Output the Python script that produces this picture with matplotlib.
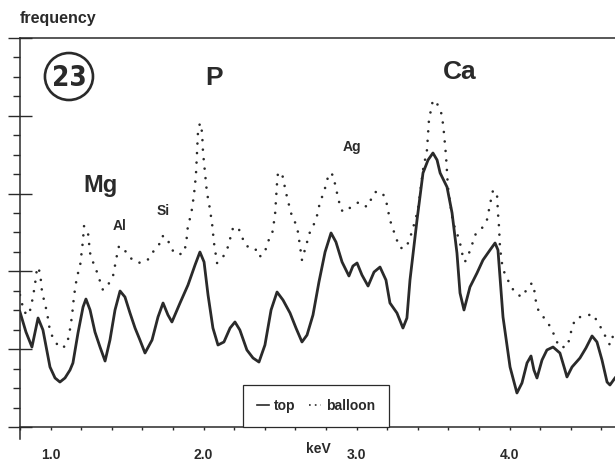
import matplotlib
matplotlib.use('Agg')
import matplotlib.pyplot as plt
from matplotlib.patches import Ellipse
from matplotlib.lines import Line2D
from matplotlib.ticker import MultipleLocator, FixedLocator

plt.rcParams['font.family'] = ['Liberation Sans', 'DejaVu Sans']
plt.rcParams['font.weight'] = 'bold'

# spectrum "top" (solid line), energy in keV, counts in axis units
kev_top = [0.800, 0.839, 0.878, 0.918, 0.950, 0.996, 1.029, 1.061, 1.094, 1.127,
           1.146, 1.179, 1.212, 1.231, 1.258, 1.290, 1.323, 1.356, 1.388, 1.421,
           1.454, 1.486, 1.519, 1.552, 1.584, 1.617, 1.663, 1.702, 1.735, 1.767,
           1.793, 1.846, 1.898, 1.944, 1.976, 2.003, 2.029, 2.061, 2.094, 2.133,
           2.173, 2.205, 2.237, 2.283, 2.323, 2.362, 2.401, 2.441, 2.480, 2.519,
           2.565, 2.604, 2.643, 2.676, 2.715, 2.754, 2.794, 2.833, 2.865, 2.905,
           2.950, 2.976, 3.003, 3.035, 3.075, 3.114, 3.153, 3.192, 3.218, 3.264,
           3.303, 3.329, 3.349, 3.395, 3.434, 3.467, 3.499, 3.526, 3.546, 3.591,
           3.624, 3.656, 3.676, 3.702, 3.741, 3.787, 3.826, 3.872, 3.905, 3.924,
           3.957, 4.003, 4.048, 4.081, 4.114, 4.140, 4.159, 4.179, 4.212, 4.244,
           4.284, 4.329, 4.362, 4.375, 4.408, 4.460, 4.499, 4.539, 4.571, 4.604,
           4.637, 4.656, 4.689]
top = [1.478, 1.221, 1.028, 1.401, 1.247, 0.771, 0.630, 0.578, 0.630, 0.733,
       0.823, 1.208, 1.542, 1.645, 1.504, 1.221, 1.028, 0.848, 1.118, 1.504,
       1.748, 1.671, 1.465, 1.272, 1.118, 0.951, 1.118, 1.414, 1.594, 1.440,
       1.350, 1.594, 1.825, 2.082, 2.249, 2.121, 1.697, 1.272, 1.054, 1.093,
       1.272, 1.350, 1.247, 0.990, 0.887, 0.835, 1.054, 1.504, 1.735, 1.632,
       1.465, 1.272, 1.093, 1.182, 1.440, 1.864, 2.249, 2.494, 2.378, 2.121,
       1.941, 2.069, 2.108, 1.954, 1.812, 1.992, 2.056, 1.889, 1.594, 1.465,
       1.272, 1.401, 1.889, 2.661, 3.265, 3.432, 3.522, 3.432, 3.265, 3.085,
       2.751, 2.236, 1.722, 1.504, 1.799, 1.979, 2.146, 2.275, 2.365, 2.275,
       1.414, 0.771, 0.437, 0.566, 0.823, 0.913, 0.733, 0.630, 0.861, 0.990,
       1.028, 0.951, 0.733, 0.643, 0.771, 0.887, 1.015, 1.170, 1.093, 0.861,
       0.578, 0.540, 0.630]

# spectrum "balloon" (dotted line)
kev_balloon = [0.800, 0.826, 0.859, 0.885, 0.905, 0.911, 0.931, 0.944, 0.976, 0.996,
               1.022, 1.061, 1.101, 1.120, 1.140, 1.153, 1.173, 1.192, 1.212, 1.218,
               1.244, 1.258, 1.277, 1.303, 1.342, 1.375, 1.408, 1.434, 1.447, 1.480,
               1.512, 1.571, 1.630, 1.663, 1.708, 1.728, 1.761, 1.780, 1.813, 1.865,
               1.885, 1.898, 1.918, 1.937, 1.950, 1.957, 1.963, 1.976, 1.990, 1.996,
               2.009, 2.022, 2.035, 2.055, 2.068, 2.088, 2.127, 2.159, 2.192, 2.225,
               2.251, 2.277, 2.336, 2.362, 2.401, 2.414, 2.447, 2.467, 2.480, 2.486,
               2.512, 2.539, 2.571, 2.597, 2.617, 2.643, 2.695, 2.735, 2.761, 2.787,
               2.820, 2.846, 2.872, 2.898, 2.924, 2.963, 3.016, 3.068, 3.120, 3.166,
               3.192, 3.218, 3.258, 3.284, 3.323, 3.349, 3.369, 3.401, 3.434, 3.460,
               3.473, 3.486, 3.499, 3.532, 3.558, 3.571, 3.584, 3.591, 3.597, 3.611,
               3.631, 3.656, 3.676, 3.689, 3.708, 3.735, 3.754, 3.774, 3.820, 3.852,
               3.865, 3.878, 3.892, 3.918, 3.924, 3.931, 3.937, 3.950, 3.970, 4.003,
               4.035, 4.081, 4.114, 4.146, 4.166, 4.173, 4.192, 4.238, 4.271, 4.297,
               4.323, 4.375, 4.395, 4.408, 4.434, 4.493, 4.545, 4.578, 4.610, 4.637,
               4.656, 4.689]
balloon = [1.697, 1.478, 1.440, 1.671, 1.928, 2.056, 1.992, 1.735, 1.478, 1.234,
           1.118, 1.015, 1.041, 1.170, 1.427, 1.684, 1.941, 2.056, 2.404, 2.583,
           2.506, 2.236, 2.121, 1.992, 1.761, 1.825, 1.941, 2.211, 2.326, 2.288,
           2.185, 2.108, 2.134, 2.236, 2.339, 2.455, 2.442, 2.326, 2.224, 2.224,
           2.339, 2.596, 2.725, 2.982, 3.239, 3.522, 3.779, 3.907, 3.792, 3.535,
           3.278, 3.008, 2.879, 2.622, 2.365, 2.108, 2.185, 2.314, 2.558, 2.571,
           2.442, 2.326, 2.301, 2.185, 2.236, 2.365, 2.468, 2.725, 3.136, 3.265,
           3.265, 3.008, 2.751, 2.635, 2.506, 2.146, 2.506, 2.661, 2.892, 3.020,
           3.265, 3.239, 3.008, 2.789, 2.763, 2.828, 2.892, 2.828, 3.020, 3.020,
           2.918, 2.661, 2.429, 2.301, 2.301, 2.429, 2.558, 2.789, 3.303, 3.560,
           3.946, 4.074, 4.203, 4.139, 4.010, 3.779, 3.496, 3.265, 3.085, 2.879,
           2.622, 2.494, 2.365, 2.236, 2.121, 2.236, 2.339, 2.468, 2.558, 2.661,
           2.789, 2.918, 3.046, 2.982, 2.751, 2.571, 2.314, 2.108, 1.954, 1.838,
           1.722, 1.671, 1.774, 1.851, 1.722, 1.594, 1.478, 1.375, 1.272, 1.157,
           1.028, 1.028, 1.157, 1.285, 1.401, 1.427, 1.452, 1.337, 1.234, 1.118,
           1.054, 1.247]

tick_kev = [1.0, 2.0, 3.0, 4.0]
tick_labels = ['1.0', '2.0', '3.0', '4.0']

# element labels
elements = ['Mg', 'Al', 'Si', 'P', 'Ag', 'Ca']
elem_kev = [1.329, 1.454, 1.735, 2.068, 2.970, 3.676]
elem_y = [3.098, 2.584, 2.776, 4.486, 3.599, 4.563]
elem_size = [17, 10, 10, 19, 10, 19]

ink = '#2a2a2a'

fig = plt.figure(figsize=(6.15, 4.62), dpi=100)
ax = fig.add_axes([20 / 615, 35 / 462, 595 / 615, 389 / 462])

ax.plot(kev_balloon, balloon, color=ink, lw=1.9, linestyle=(0, (0.01, 3.6)),
        dash_capstyle='round')
ax.plot(kev_top, top, color=ink, lw=2.0, solid_joinstyle='round')

ax.set_xlim(0.8, 4.689)
ax.set_ylim(0, 5)

for s in ['left', 'bottom', 'top']:
    ax.spines[s].set_linewidth(1.1)
    ax.spines[s].set_color(ink)
ax.spines['right'].set_visible(False)
ax.spines['left'].set_bounds(-0.16, 5)

ax.yaxis.set_major_locator(MultipleLocator(1))
ax.yaxis.set_minor_locator(MultipleLocator(0.25))
ax.tick_params(axis='y', which='major', direction='inout', length=17, width=1.0,
               color=ink, labelleft=False)
ax.tick_params(axis='y', which='minor', direction='out', length=5, width=1.0,
               color=ink)

ax.xaxis.set_major_locator(FixedLocator(tick_kev))
ax.xaxis.set_minor_locator(MultipleLocator(0.2))
ax.set_xticklabels(tick_labels)
ax.tick_params(axis='x', which='both', direction='out', length=2.5, width=1.0,
               color=ink, pad=12.5, labelsize=10, labelcolor=ink)

for name, xk, yv, fs in zip(elements, elem_kev, elem_y, elem_size):
    ax.text(xk, yv, name, ha='center', va='center', fontsize=fs,
            fontweight='bold', color=ink)

# circled sample number
ax.add_patch(Ellipse((1.120, 4.505), 0.314, 0.604, fill=False, ec=ink, lw=1.9))
ax.text(1.120, 4.49, '23', ha='center', va='center', fontsize=20,
        fontweight='bold', fontstretch='condensed', color=ink,
        family=['DejaVu Sans'])

handles = [Line2D([], [], color=ink, lw=1.2),
           Line2D([], [], color=ink, lw=1.2, linestyle=(0, (1, 2.5)))]
leg = ax.legend(handles, ['top', 'balloon'], ncol=2, loc='lower left',
                bbox_to_anchor=((243 - 20) / 595, 0.0), borderaxespad=0,
                prop={'size': 10, 'weight': 'bold'}, handlelength=0.9,
                handletextpad=0.3, columnspacing=1.0, borderpad=1.0,
                fancybox=False, framealpha=1, edgecolor=ink)
leg.get_frame().set_linewidth(0.9)
for t in leg.get_texts():
    t.set_color(ink)

fig.text(20 / 615, 1 - 19 / 462, 'frequency', ha='left', va='center',
         fontsize=11.5, fontweight='bold', color=ink)
fig.text(318 / 615, 1 - 449 / 462, 'keV', ha='center', va='center',
         fontsize=10, fontweight='bold', color=ink)

fig.savefig('out.png', dpi=100, facecolor='white')
